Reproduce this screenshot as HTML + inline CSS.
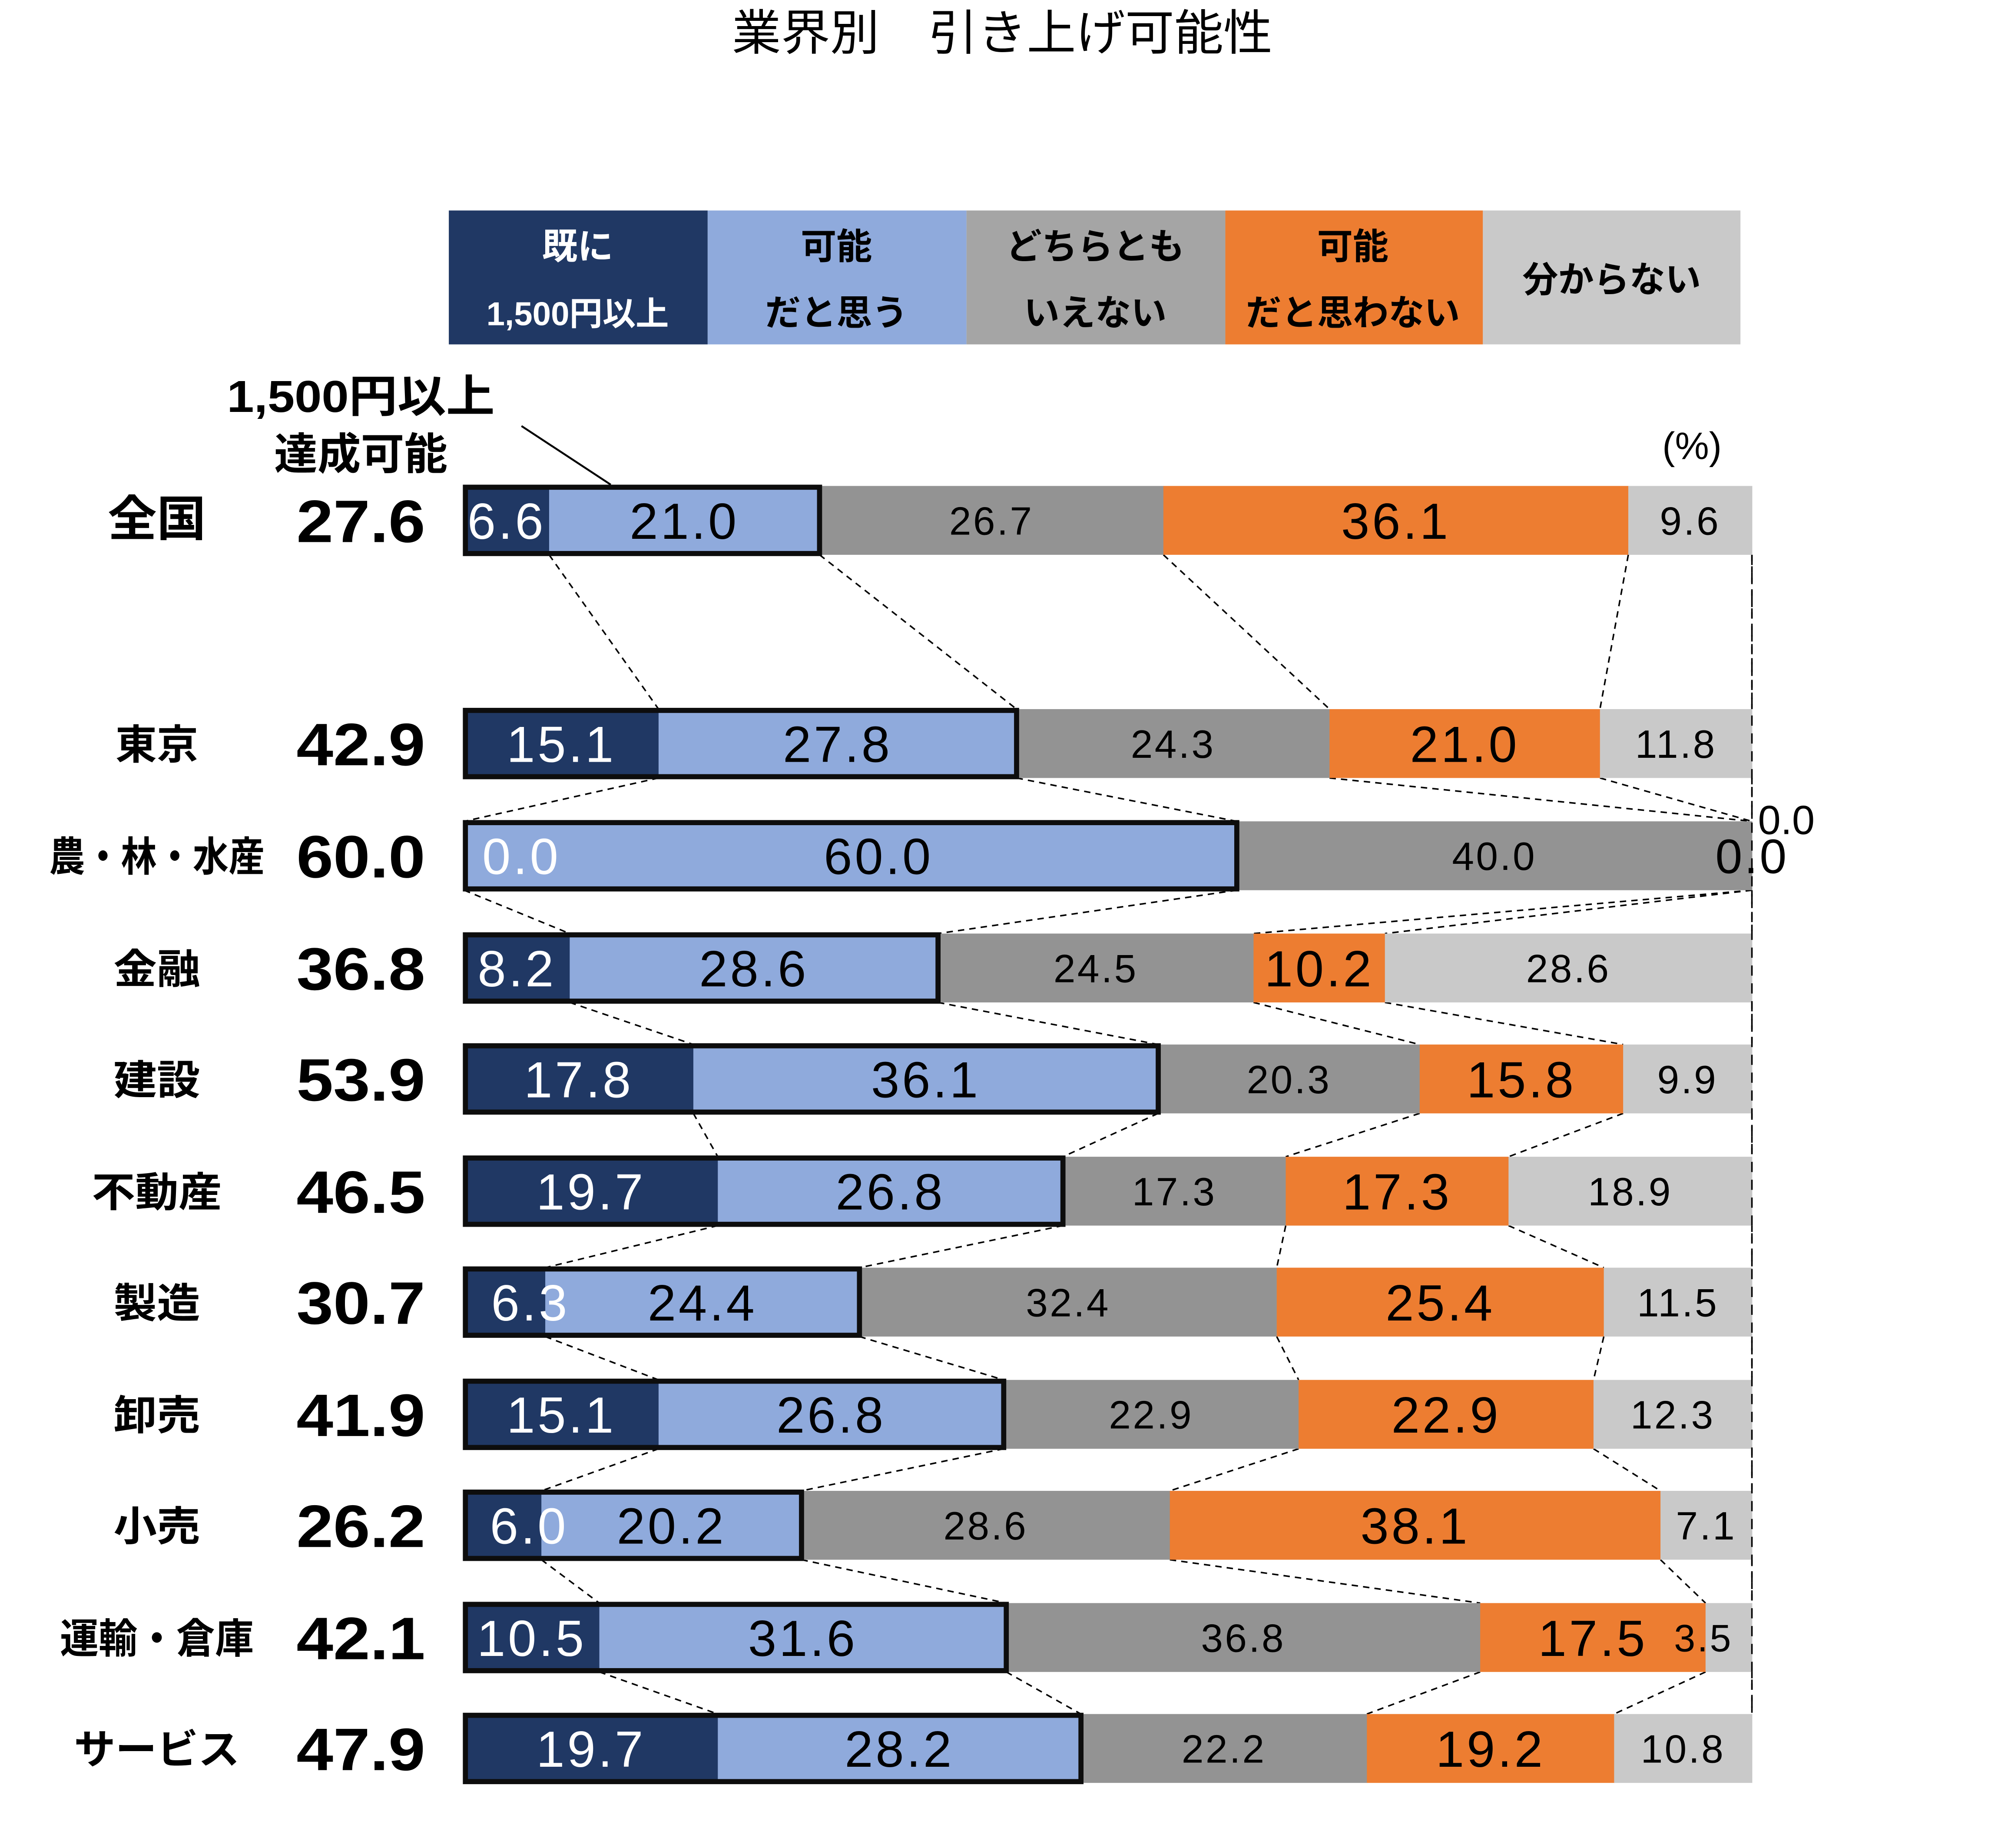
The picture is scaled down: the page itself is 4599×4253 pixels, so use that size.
<!DOCTYPE html>
<html><head><meta charset="utf-8"><style>
html,body{margin:0;padding:0;background:#fff;}
svg{display:block;}
text{font-family:"Liberation Sans","Noto Sans CJK JP",sans-serif;}
</style></head><body>
<svg id="c" xmlns="http://www.w3.org/2000/svg" width="4599" height="4253" viewBox="-1 1 1567 1449">
<rect x="-1" y="-1" width="1567" height="1455" fill="#fff"/>
<text x="785" y="40" font-size="38" text-anchor="middle" fill="#000" textLength="424" lengthAdjust="spacingAndGlyphs">業界別　引き上げ可能性</text>
<g font-weight="bold" font-size="28" text-anchor="middle">
<rect x="351" y="166" width="203" height="105" fill="#203864"/>
<rect x="554" y="166" width="203" height="105" fill="#8FAADC"/>
<rect x="757" y="166" width="203" height="105" fill="#A5A5A5"/>
<rect x="960" y="166" width="202" height="105" fill="#ED7D31"/>
<rect x="1162" y="166" width="202" height="105" fill="#C9C9C9"/>
<text x="452" y="204" fill="#fff">既に</text><text x="452" y="256" fill="#fff" font-size="26">1,500円以上</text>
<text x="655" y="204" fill="#000">可能</text><text x="655" y="256" fill="#000">だと思う</text>
<text x="858" y="204" fill="#000">どちらとも</text><text x="858" y="256" fill="#000">いえない</text>
<text x="1060" y="204" fill="#000">可能</text><text x="1060" y="256" fill="#000">だと思わない</text>
<text x="1263" y="230" fill="#000">分からない</text>
</g>
<text x="282" y="324" font-size="35" font-weight="bold" text-anchor="middle" textLength="210" lengthAdjust="spacingAndGlyphs">1,500円以上</text>
<text x="282" y="369" font-size="34" font-weight="bold" text-anchor="middle">達成可能</text>
<line x1="408" y1="335" x2="478" y2="381" stroke="#000" stroke-width="1.5"/>
<text x="1326" y="361" font-size="30" text-anchor="middle">(%)</text>
<g id="bars"></g>
</svg>
<script>
var data=[
["全国",27.6,[6.6,21.0,26.7,36.1,9.6],409],
["東京",42.9,[15.1,27.8,24.3,21.0,11.8],584],
["農・林・水産",60.0,[0.0,60.0,40.0,0.0,0.0],672],
["金融",36.8,[8.2,28.6,24.5,10.2,28.6],760],
["建設",53.9,[17.8,36.1,20.3,15.8,9.9],847],
["不動産",46.5,[19.7,26.8,17.3,17.3,18.9],935],
["製造",30.7,[6.3,24.4,32.4,25.4,11.5],1022],
["卸売",41.9,[15.1,26.8,22.9,22.9,12.3],1110],
["小売",26.2,[6.0,20.2,28.6,38.1,7.1],1197],
["運輸・倉庫",42.1,[10.5,31.6,36.8,17.5,3.5],1285],
["サービス",47.9,[19.7,28.2,22.2,19.2,10.8],1372]];
var cols=["#203864","#8FAADC","#939393","#ED7D31","#C9C9C9"];
var tc=["#fff","#000","#000","#000","#000"];
var X0=363,W=1010,H=54,s="";
function px(v){return X0+W*v/100;}
var cums=data.map(function(d){var c=[0],a=0;d[2].forEach(function(v){a+=v;c.push(Math.min(a,100));});c[5]=100;return c;});
for(var i=0;i<data.length-1;i++){
 var y1=data[i][3]+H/2,y2=data[i+1][3]-H/2;
 for(var k=1;k<=5;k++){
  s+='<line x1="'+px(cums[i][k])+'" y1="'+y1+'" x2="'+px(cums[i+1][k])+'" y2="'+y2+'" stroke="#000" stroke-width="1.2" stroke-dasharray="5,4"/>';
 }
}
var nameW={"全国":77,"東京":65,"農・林・水産":169,"金融":68,"建設":68,"不動産":102,"製造":68,"卸売":68,"小売":68,"運輸・倉庫":152,"サービス":130};
data.forEach(function(d,i){
 var y=d[3],c=cums[i];
 for(var k=0;k<5;k++){
  var a=px(c[k]),b=px(c[k+1]);
  if(b>a) s+='<rect x="'+a+'" y="'+(y-H/2)+'" width="'+(b-a+0.3)+'" height="'+H+'" fill="'+cols[k]+'"/>';
 }
 s+='<rect x="'+(X0+1)+'" y="'+(y-H/2+1)+'" width="'+(px(c[2])-X0-1)+'" height="'+(H-2)+'" fill="none" stroke="#0d0d0d" stroke-width="4"/>';
 for(var k=0;k<5;k++){
  var v=d[2][k],cx=(px(c[k])+px(c[k+1]))/2,fs=(k==2||k==4)?31:40,col=tc[k];
  if(i==2){ if(k==0){cx=408;col="#fff";} if(k==1)cx=688; if(k==3)continue; if(k==4){cx=1373;fs=38;} }
  if(i==8&&k==0)cx=414;
  if(i==6&&k==0)cx=415;
  if(i==9&&k==4){cx=1335;fs=30;}
  var sp=(k==2||k==4)?1.5:2;
  s+='<text x="'+cx+'" y="'+(y+fs*0.36)+'" font-size="'+fs+'" letter-spacing="'+sp+'" text-anchor="middle" fill="'+col+'">'+v.toFixed(1)+'</text>';
 }
 var fsn=d[0]=="全国"?38:32;
 s+='<text x="122" y="'+(y+12)+'" font-size="'+fsn+'" font-weight="bold" text-anchor="middle" textLength="'+nameW[d[0]]+'" lengthAdjust="spacingAndGlyphs">'+d[0]+'</text>';
 s+='<text x="282" y="'+(y+17)+'" font-size="47" font-weight="bold" text-anchor="middle" textLength="101" lengthAdjust="spacingAndGlyphs">'+d[1].toFixed(1)+'</text>';
});
s+='<text x="1400" y="655" font-size="32" text-anchor="middle">0.0</text>';
s+='<line x1="1373" y1="436" x2="1373" y2="1345" stroke="#000" stroke-width="1.2" stroke-dasharray="8,6"/>';
document.getElementById("bars").innerHTML=s;
</script>
</body></html>
